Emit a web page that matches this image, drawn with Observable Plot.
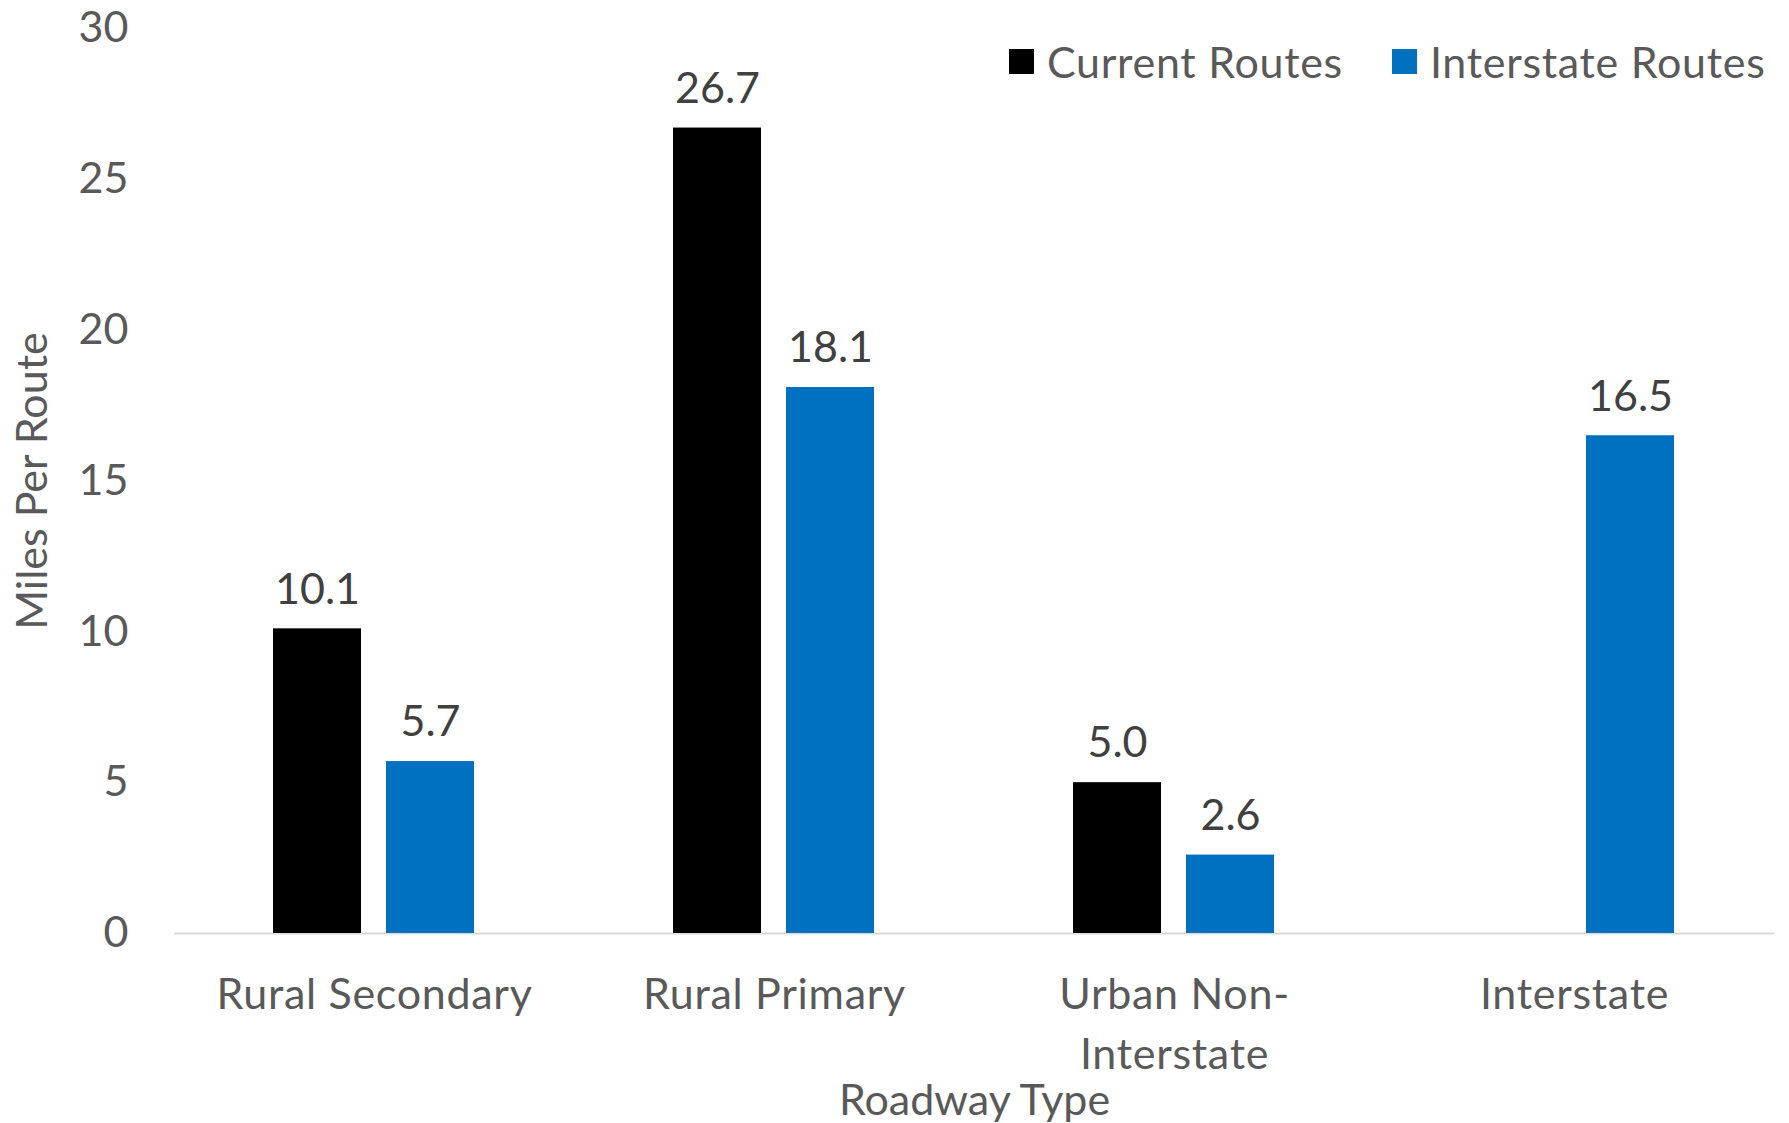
<!DOCTYPE html>
<html>
<head>
<meta charset="utf-8">
<script src="https://cdn.jsdelivr.net/npm/d3@7"></script>
<script src="https://cdn.jsdelivr.net/npm/@observablehq/plot@0.6"></script>
<style>
  body { margin: 0; background: #fff; }
  #wrap { position: relative; width: 1789px; height: 1123px; font-family: Lato, sans-serif; }
  #legend { position: absolute; left: 1009px; top: 36px; display: flex; align-items: center; font-size: 43px; color: #595959; letter-spacing: 0.7px; }
  #legend .sw { width: 25px; height: 25px; margin-right: 13px; }
  #legend .item { display: flex; align-items: center; margin-right: 49px; }
  #legend .item:last-child { margin-right: 0; }
  svg [aria-label="fx-axis tick label"] { letter-spacing: 0.7px; }
</style>
</head>
<body>
<div id="wrap"><div id="legend"></div></div>
<script>
const categories = ["Rural Secondary", "Rural Primary", "Urban Non-Interstate", "Interstate"];
const categoryLines = ["Rural Secondary", "Rural Primary", "Urban Non-\nInterstate", "Interstate"];
const seriesNames = ["Current Routes", "Interstate Routes"];
const seriesColors = ["#000000", "#0070C0"];
const currentRoutes = [10.1, 26.7, 5.0, null];
const interstateRoutes = [5.7, 18.1, 2.6, 16.5];
const yTicks = [0, 5, 10, 15, 20, 25, 30];

const rows = [];
categories.forEach((c, i) => {
  if (currentRoutes[i] != null) rows.push({category: c, series: seriesNames[0], value: currentRoutes[i]});
  if (interstateRoutes[i] != null) rows.push({category: c, series: seriesNames[1], value: interstateRoutes[i]});
});

const fmt = d3.format(".1f");

const chart = Plot.plot({
  width: 1789,
  height: 1123,
  marginLeft: 173,
  marginRight: 15,
  marginTop: 28,
  marginBottom: 190,
  style: {fontFamily: "Lato, sans-serif", fontSize: "43px", color: "#595959", background: "#fff"},
  fx: {domain: categories, padding: 0, label: "Roadway Type"},
  x: {domain: seriesNames, paddingInner: 0.219, paddingOuter: 0.864, axis: null},
  y: {domain: [0, 30], label: "Miles Per Route"},
  color: {domain: seriesNames, range: seriesColors},
  marks: [
    Plot.axisY({ticks: yTicks, tickSize: 0, tickPadding: 46, label: "Miles Per Route", labelAnchor: "center", labelArrow: "none", labelOffset: 158, fill: "#595959"}),
    Plot.axisFx({anchor: "bottom", tickSize: 0, tickPadding: 33, lineHeight: 1.4, tickFormat: (d) => categoryLines[categories.indexOf(d)], label: "Roadway Type", labelAnchor: "center", labelArrow: "none", labelOffset: 181, fill: "#595959"}),
    Plot.ruleY([0], {stroke: "#d9d9d9", strokeWidth: 2}),
    Plot.barY(rows, {fx: "category", x: "series", y: "value", fill: "series"}),
    Plot.text(rows, {fx: "category", x: "series", y: "value", text: (d) => fmt(d.value), dy: -39, lineAnchor: "middle", fill: "#404040"})
  ]
});

document.getElementById("wrap").prepend(chart);

const legend = document.getElementById("legend");
seriesNames.forEach((s, i) => {
  const item = document.createElement("div");
  item.className = "item";
  const sw = document.createElement("div");
  sw.className = "sw";
  sw.style.background = seriesColors[i];
  const t = document.createElement("span");
  t.textContent = s;
  item.appendChild(sw);
  item.appendChild(t);
  legend.appendChild(item);
});
</script>
</body>
</html>
